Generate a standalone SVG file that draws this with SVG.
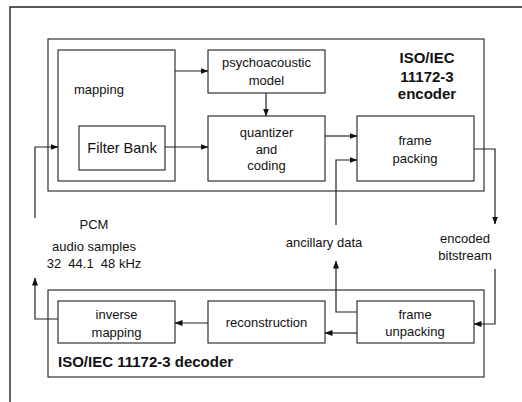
<svg xmlns="http://www.w3.org/2000/svg" width="522" height="402" viewBox="0 0 522 402">
  <style>
    .box { fill: none; stroke: #333; stroke-width: 1.2; }
    .frame { fill: none; stroke: #222; stroke-width: 1.4; }
    .wire { fill: none; stroke: #222; stroke-width: 1.2; }
    text { font-family: "Liberation Sans", Arial, sans-serif; font-size: 13px; fill: #111; }
    .c { text-anchor: middle; }
    .b { font-weight: bold; font-size: 15px; }
  </style>
  <defs>
    <marker id="arr" markerWidth="8" markerHeight="6" refX="7.5" refY="3" orient="auto" markerUnits="userSpaceOnUse">
      <path d="M0,0 L8,3 L0,6 Z" fill="#111"/>
    </marker>
  </defs>

  <rect width="522" height="402" fill="#fff"/>

  <!-- page frame (top and left edges) -->
  <path class="frame" d="M10,402 L10,7 L522,7"/>

  <!-- encoder -->
  <g id="encoder">
    <rect class="box" x="48" y="39" width="436" height="152"/>
    <text class="b c" x="427" y="63">ISO/IEC</text>
    <text class="b c" x="427" y="82">11172-3</text>
    <text class="b c" x="427" y="99">encoder</text>
  </g>
  <g id="mapping">
    <rect class="box" x="58" y="50" width="117" height="131"/>
    <text x="74" y="94">mapping</text>
  </g>
  <g id="filter-bank">
    <rect class="box" x="79" y="126" width="86" height="44"/>
    <text class="c" x="122" y="153" style="font-size:14.5px">Filter Bank</text>
  </g>
  <g id="psychoacoustic-model">
    <rect class="box" x="208" y="50" width="117" height="43"/>
    <text class="c" x="266.5" y="67">psychoacoustic</text>
    <text class="c" x="266.5" y="85">model</text>
  </g>
  <g id="quantizer">
    <rect class="box" x="208" y="116" width="117" height="65"/>
    <text class="c" x="266.5" y="137">quantizer</text>
    <text class="c" x="266.5" y="154">and</text>
    <text class="c" x="266.5" y="170">coding</text>
  </g>
  <g id="frame-packing">
    <rect class="box" x="357" y="116" width="117" height="65"/>
    <text class="c" x="415" y="145">frame</text>
    <text class="c" x="415" y="163">packing</text>
  </g>

  <!-- decoder -->
  <g id="decoder">
    <rect class="box" x="48" y="290" width="436" height="87"/>
    <text class="b" x="58" y="367">ISO/IEC 11172-3 decoder</text>
  </g>
  <g id="inverse-mapping">
    <rect class="box" x="58" y="301" width="117" height="42"/>
    <text class="c" x="116.5" y="319">inverse</text>
    <text class="c" x="116.5" y="337">mapping</text>
  </g>
  <g id="reconstruction">
    <rect class="box" x="208" y="301" width="117" height="42"/>
    <text class="c" x="266.5" y="327">reconstruction</text>
  </g>
  <g id="frame-unpacking">
    <rect class="box" x="357" y="301" width="117" height="42"/>
    <text class="c" x="415" y="319">frame</text>
    <text class="c" x="415" y="336">unpacking</text>
  </g>

  <!-- free labels -->
  <g id="pcm">
    <text class="c" x="94" y="229">PCM</text>
    <text class="c" x="94" y="251">audio samples</text>
    <text class="c" x="94" y="268" xml:space="preserve">32  44.1  48 kHz</text>
  </g>
  <g id="ancillary">
    <text class="c" x="324" y="247">ancillary data</text>
  </g>
  <g id="bitstream">
    <text class="c" x="465" y="243">encoded</text>
    <text class="c" x="465" y="260">bitstream</text>
  </g>

  <!-- connectors -->
  <g id="connectors">
    <path class="wire" d="M175,71 L208,71" marker-end="url(#arr)"/>
    <path class="wire" d="M165,147 L208,147" marker-end="url(#arr)"/>
    <path class="wire" d="M266,93 L266,116" marker-end="url(#arr)"/>
    <path class="wire" d="M325,136 L357,136" marker-end="url(#arr)"/>
    <path class="wire" d="M336,225 L336,160 L357,160" marker-end="url(#arr)"/>
    <path class="wire" d="M474,149 L495,149 L495,224" marker-end="url(#arr)"/>
    <path class="wire" d="M35,218 L35,147 L58,147" marker-end="url(#arr)"/>
    <path class="wire" d="M495,269 L495,324 L474,324" marker-end="url(#arr)"/>
    <path class="wire" d="M357,333 L325,333" marker-end="url(#arr)"/>
    <path class="wire" d="M208,323 L175,323" marker-end="url(#arr)"/>
    <path class="wire" d="M357,312 L336,312 L336,261" marker-end="url(#arr)"/>
    <path class="wire" d="M58,319 L35,319 L35,278" marker-end="url(#arr)"/>
  </g>
</svg>
